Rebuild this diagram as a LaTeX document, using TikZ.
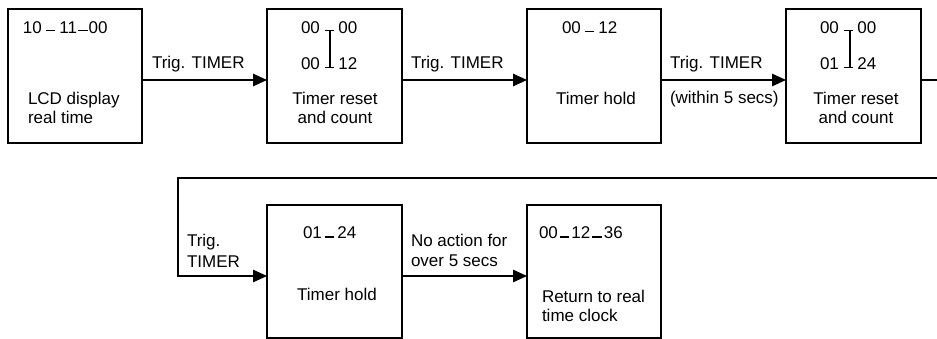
\documentclass[tikz,border=0pt]{standalone}
\usepackage{fontspec}
\setmainfont{Liberation Sans}
\usetikzlibrary{arrows.meta}
\newcommand{\dshu}{\rule[3pt]{9.5pt}{1.1pt}}
\newcommand{\dshl}{\rule[1.5pt]{9.5pt}{1.1pt}}
\tikzset{
  box/.style={draw, line width=1.1pt, minimum width=134pt, minimum height=134pt, inner sep=0pt, outer sep=0pt},
  txt/.style={inner sep=0pt, outer sep=0pt, font=\fontsize{17}{19}\selectfont},
  lw/.style={txt, anchor=base west},
  lc/.style={txt, anchor=base},
  conn/.style={line width=1.1pt},
  arr/.style={conn, -{Triangle[length=14pt,width=12.5pt]}}
}
\begin{document}
\begin{tikzpicture}[x=1pt,y=-1pt]
\useasboundingbox (0,0) rectangle (937,339);
% boxes
\node[box] (b1) at (75,76) {};
\node[box, minimum width=135pt] (b2) at (334.5,76) {};
\node[box] (b3) at (594,76) {};
\node[box, minimum width=135pt] (b4) at (853.5,76) {};
\node[box, minimum width=135pt, minimum height=133pt] (b5) at (334.5,271.5) {};
\node[box, minimum height=133pt] (b6) at (594,271.5) {};
% box texts
\node[lw] (n1) at (23,34) {10\kern4pt\dshu\kern4pt 11\kern1pt\dshu\kern1pt 00};
\node[lw] (d1a) at (28,105) {LCD display};
\node[lw] (d1b) at (28,124) {real time};
\node[lw] (n2a) at (301,34) {00\kern5pt\dshu\kern4pt 00};
\node[lw] (n2b) at (301,70) {00\kern5pt\dshl\kern4pt 12};
\draw[conn] (330,30.5) -- (330,68);
\node[lc] (d2a) at (335,105) {Timer reset};
\node[lc] (d2b) at (335,124) {and count};
\node[lw] (n3) at (562,34) {00\kern4pt\dshl\kern4pt 12};
\node[lc] (d3) at (596,105) {Timer hold};
\node[lw] (n4a) at (820,34) {00\kern5pt\dshu\kern4pt 00};
\node[lw] (n4b) at (820,70) {01\kern5pt\dshl\kern4pt 24};
\draw[conn] (850,30.5) -- (850,68);
\node[lc] (d4a) at (856,105) {Timer reset};
\node[lc] (d4b) at (856,124) {and count};
\node[lw] (n5) at (303,239) {01\kern3pt\dshl\kern3pt 24};
\node[lc] (d5) at (337,300) {Timer hold};
\node[lw] (n6) at (539,239) {00\kern2pt\dshl\kern2pt 12\kern2pt\dshl\kern2pt 36};
\node[lw] (d6a) at (542,302) {Return to real};
\node[lw] (d6b) at (542,321) {time clock};
% arrows
\draw[arr] ([yshift=-4pt]b1.east) -- ([yshift=-4pt]b2.west);
\draw[arr] ([yshift=-4pt]b2.east) -- ([yshift=-4pt]b3.west);
\draw[arr] ([yshift=-4pt]b3.east) -- ([yshift=-4pt]b4.west);
\coordinate (r1) at (937,80);
\draw[conn] ([yshift=-4pt]b4.east) -- (r1);
\coordinate (r2) at (937,178);
\coordinate (l2) at (178,178);
\draw[arr] (r2) -- (l2) |- ([yshift=-4.5pt]b5.west);
\draw[arr] ([yshift=-4.5pt]b5.east) -- ([yshift=-4.5pt]b6.west);
% labels
\node[lw] (t1) at (152,69) {Trig. TIMER};
\node[lw] (t2) at (411,69) {Trig. TIMER};
\node[lw] (t3a) at (670,69) {Trig. TIMER};
\node[lw] (t3b) at (670,104) {(within 5 secs)};
\node[lw] (t4a) at (187,247) {Trig.};
\node[lw] (t4b) at (187,267) {TIMER};
\node[lw] (t5a) at (411,247) {No action for};
\node[lw] (t5b) at (411,266) {over 5 secs};
\end{tikzpicture}
\end{document}
